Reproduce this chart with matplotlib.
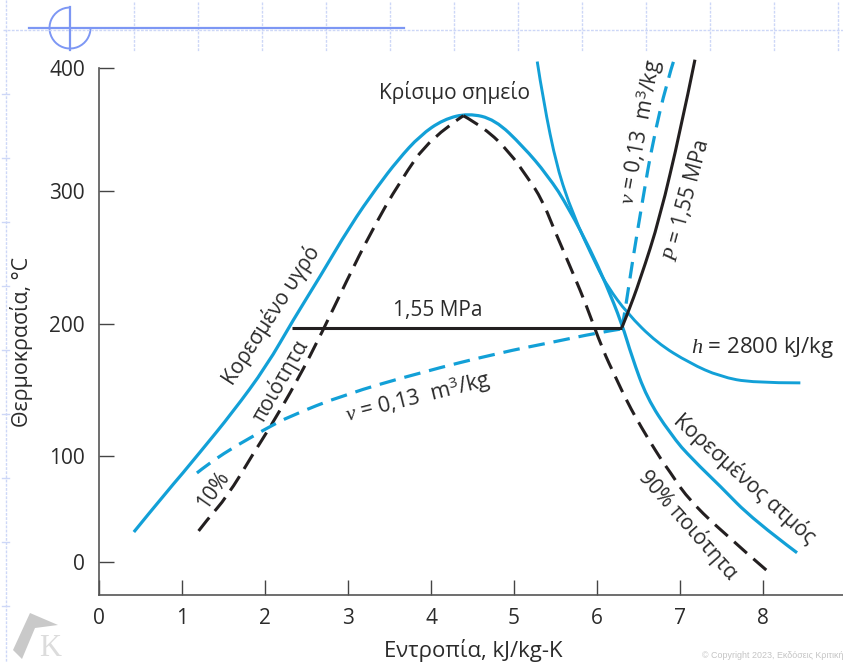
import numpy as np
import matplotlib
matplotlib.use('Agg')
import matplotlib.pyplot as plt
from matplotlib.patches import Arc, Polygon, PathPatch
from matplotlib.path import Path

plt.rcParams['font.family'] = ['Open Sans', 'DejaVu Sans']
plt.rcParams['mathtext.fontset'] = 'custom'
plt.rcParams['mathtext.rm'] = 'Open Sans'
plt.rcParams['mathtext.it'] = 'Liberation Serif:italic'

# saturation dome
dome_s = [0.42, 0.80, 1.22, 1.61, 2.02, 2.34, 2.66, 3.02, 3.35, 3.60, 3.87, 4.15, 4.45, 4.77, 5.11, 5.40, 5.67, 5.92, 6.10, 6.30, 6.42, 6.60, 6.88, 7.16, 7.48, 7.88, 8.41]
dome_t = [28.5, 65, 103, 133, 168, 202.8, 235, 273, 303, 325, 345, 358, 363, 358, 336, 313, 285.7, 255.5, 231, 200, 175, 144, 117, 96, 72, 40, 9]

# quality lines
q10_s = [1.20, 1.30, 1.54, 1.86, 2.06, 2.39, 2.69, 2.99, 3.27, 3.63, 3.99, 4.39]
q10_t = [29.5, 39.8, 61.4, 102, 121.5, 157, 193.7, 233, 268, 308, 343, 361]
q90_s = [4.39, 4.65, 4.95, 5.16, 5.34, 5.47, 5.59, 5.73, 5.86, 6.07, 6.22, 6.37, 6.54, 6.70, 6.88, 7.08, 7.48, 8.08]
q90_t = [361, 351, 331, 311, 293, 273, 255.5, 235, 215.6, 180, 160, 140, 121, 104.5, 85, 61.4, 30.4, -10]

# constant pressure, wet region then superheated
pw_s = [2.33, 6.30]
pw_t = [197, 197]
ps_s = [6.30, 6.36, 6.52, 6.76, 7.0, 7.18]
ps_t = [197, 206, 233, 280, 347, 406.5]

# constant specific volume, wet region then superheated
vw_s = [1.18, 1.42, 2.02, 2.30, 2.94, 3.87, 4.83, 5.47, 6.0, 6.30]
vw_t = [84, 99, 121, 130, 146, 163, 178, 186, 193, 196]
vs_s = [6.30, 6.34, 6.43, 6.55, 6.67, 6.84, 6.94]
vs_t = [196, 210, 248, 293, 339, 388, 409]

# constant enthalpy
h_s = [5.28, 5.35, 5.52, 5.70, 6.0, 6.13, 6.36, 6.72, 7.12, 7.48, 7.88, 8.45]
h_t = [405, 374, 318, 283.4, 242.7, 227.7, 208, 185.5, 170, 160, 155.2, 155.2]

xticks = [0, 1, 2, 3, 4, 5, 6, 7, 8]
yticks = [0, 100, 200, 300, 400]

blue = '#12a0d7'
dark = '#231f20'
grid_c = '#cdd7f7'
line_c = '#7d97f4'
txt = '#2b2b2b'

fig = plt.figure(figsize=(8.43, 6.63), dpi=100)

# slide background decorations, pixel coordinates
bg = fig.add_axes([0, 0, 1, 1])
bg.set_xlim(0, 843)
bg.set_ylim(663, 0)
bg.axis('off')
bg.plot([3, 843], [30, 30], color=grid_c, lw=1, ls=(0, (2, 1)))
bg.plot([6, 6], [0, 663], color=grid_c, lw=1, ls=(0, (2, 1)))
for gx in range(134, 843, 64):
	bg.plot([gx, gx], [2, 51], color=grid_c, lw=1, ls=(0, (2, 1)))
for gy in range(94, 663, 64):
	bg.plot([2, 9], [gy, gy], color=grid_c, lw=1)
bg.plot([29, 404], [28, 28], color=line_c, lw=1.6)
bg.plot([70, 70], [7, 50], color=line_c, lw=1.6)
bg.add_patch(Arc((70, 28), 41, 41, theta1=0, theta2=270, color=line_c, lw=1.4))
bg.add_patch(Polygon([(30, 613), (58, 625), (35, 628), (22, 659), (13, 650)], color='#c9c9c9', lw=0))
bg.text(50, 656, 'K', family='Liberation Serif', fontsize=22, color='#dcdcdc', ha='center', va='baseline')
bg.text(702, 656, '© Copyright 2023, Εκδόσεις Κριτική', family='Liberation Sans', fontsize=6.4,
		color='#c4c4c4', ha='left', va='center')

# the y axis of the figure is not evenly spaced
t_anchor = [-200, 0, 100, 200, 300, 400, 600]
h_anchor = [-179.6, 33, 139.3, 271.6, 404.3, 527.3, 773.3]

def forward(t):
	return np.interp(t, t_anchor, h_anchor)

def inverse(h):
	return np.interp(h, h_anchor, t_anchor)

ax = fig.add_axes([99 / 843, (663 - 595.3) / 663, 744 / 843, 595.3 / 663])
ax.patch.set_alpha(0)
ax.set_yscale('function', functions=(forward, inverse))
ax.set_xlim(0, 744 / 83)
ax.set_ylim(-31, 455)

def curve(xs, ys, color, lw, ls='-'):
	# read values are the control points of a quadratic path, so the drawn line has no kinks
	pts = np.column_stack([xs, ys])
	verts = [pts[0]]
	codes = [Path.MOVETO]
	for i in range(1, len(pts) - 1):
		end = pts[i + 1] if i == len(pts) - 2 else (pts[i] + pts[i + 1]) / 2
		verts += [pts[i], end]
		codes += [Path.CURVE3, Path.CURVE3]
	if len(pts) == 2:
		verts.append(pts[1])
		codes.append(Path.LINETO)
	ax.add_patch(PathPatch(Path(verts, codes), fill=False, edgecolor=color, lw=lw, ls=ls, capstyle='butt'))

dash_k = (0, (5.6, 2.8))
dash_b = (0, (5.2, 2.8))
curve(dome_s, dome_t, blue, 2.3)
curve(h_s, h_t, blue, 2.1)
curve(q10_s, q10_t, dark, 2.2, dash_k)
curve(q90_s, q90_t, dark, 2.2, dash_k)
curve(vw_s, vw_t, blue, 2.3, dash_b)
curve(vs_s, vs_t, blue, 2.3, dash_b)
curve(pw_s, pw_t, dark, 2.2)
curve(ps_s, ps_t, dark, 2.2)

for side in ['top', 'right']:
	ax.spines[side].set_visible(False)
ax.spines['left'].set_bounds(-31, 400)
for side in ['left', 'bottom']:
	ax.spines[side].set_color('#555555')
	ax.spines[side].set_linewidth(1.2)
ax.set_xticks(xticks)
ax.set_yticks(yticks)
ax.minorticks_off()
ax.tick_params(axis='both', direction='in', length=11, width=1, color='#444444', labelsize=15, labelcolor=txt)
ax.tick_params(axis='x', pad=9)
ax.tick_params(axis='y', pad=10)

labels = [
	(4.28, 380, 'Κρίσιμο σημείο', 0, 15),
	(2.08, 206.6, 'Κορεσμένο υγρό', 57, 15),
	(2.19, 157, 'ποιότητα', 60, 15),
	(1.38, 68, '10%', 55, 15),
	(4.08, 209.6, '1,55 MPa', 0, 15),
	(3.84, 144, r'$\mathit{\nu}$ = 0,13  m$^3$/kg', 14, 15.6),
	(6.53, 348, r'$\mathit{\nu}$ = 0,13  m$^3$/kg', 79.5, 15.4),
	(7.07, 293, r'$\mathit{P}$ = 1,55 MPa', 75, 15),
	(7.99, 182, r'$\mathit{h}$ = 2800 kJ/kg', 0, 16),
	(7.78, 79, 'Κορεσμένος ατμός', -42, 15.2),
	(7.10, 35, '90% ποιότητα', -48.5, 15),
]
for lx, ly, s, rot, fs in labels:
	ax.text(lx, ly, s, fontsize=fs, color=txt, rotation=rot, ha='center', va='center', rotation_mode='anchor')

fig.text(22 / 843, 1 - 342 / 663, 'Θερμοκρασία, °C', fontsize=15.4, color=txt, rotation=90, ha='center', va='center')
fig.text(473 / 843, 1 - 651 / 663, 'Εντροπία, kJ/kg-K', fontsize=15.9, color=txt, ha='center', va='center')

plt.savefig('out.png', dpi=100)
plt.close()
